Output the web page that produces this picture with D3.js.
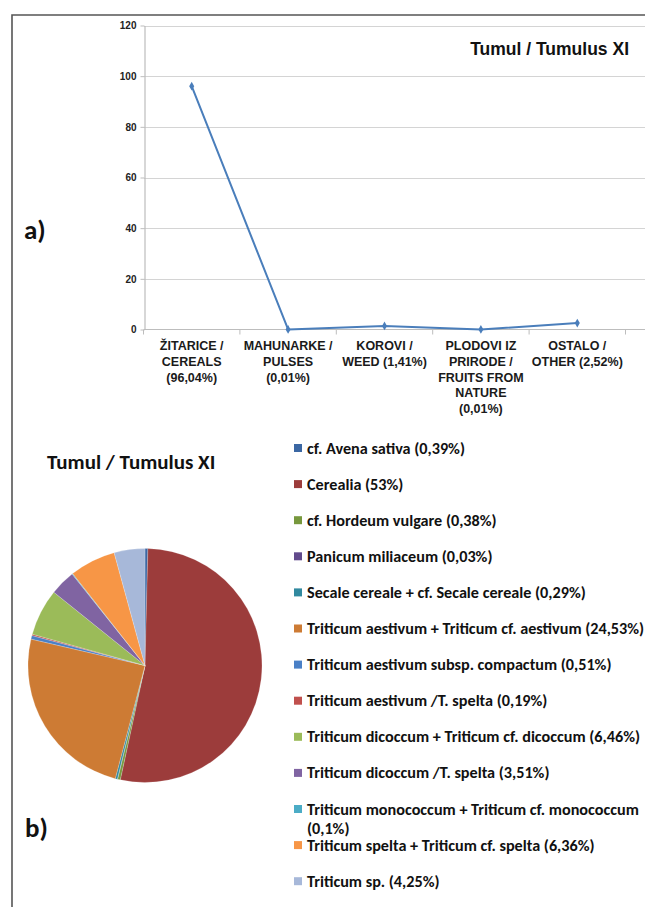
<!DOCTYPE html>
<html>
<head>
<meta charset="utf-8">
<script src="https://cdn.jsdelivr.net/npm/d3@7"></script>
<style>
  html, body { margin: 0; padding: 0; background: #fff; }
  svg { display: block; }
</style>
</head>
<body>
<svg id="chart" width="645" height="907"></svg>
<script>
// ---- data ----
const categories = [
  ["ŽITARICE /", "CEREALS", "(96,04%)"],
  ["MAHUNARKE /", "PULSES", "(0,01%)"],
  ["KOROVI /", "WEED (1,41%)"],
  ["PLODOVI IZ", "PRIRODE /", "FRUITS FROM", "NATURE", "(0,01%)"],
  ["OSTALO /", "OTHER (2,52%)"]
];
const lineValues = [96.04, 0.01, 1.41, 0.01, 2.52];
const yTicks = [0, 20, 40, 60, 80, 100, 120];
const lineTitle = "Tumul / Tumulus XI";

const pieTitle = "Tumul / Tumulus XI";
const pieLabels = [
  "cf. Avena sativa (0,39%)",
  "Cerealia (53%)",
  "cf. Hordeum vulgare (0,38%)",
  "Panicum miliaceum (0,03%)",
  "Secale cereale + cf. Secale cereale (0,29%)",
  "Triticum aestivum + Triticum cf. aestivum (24,53%)",
  "Triticum aestivum subsp. compactum (0,51%)",
  "Triticum aestivum /T. spelta (0,19%)",
  "Triticum dicoccum + Triticum cf. dicoccum (6,46%)",
  "Triticum dicoccum /T. spelta (3,51%)",
  "Triticum monococcum + Triticum cf. monococcum|(0,1%)",
  "Triticum spelta + Triticum cf. spelta (6,36%)",
  "Triticum sp. (4,25%)"
];
const pieValues = [0.39, 53, 0.38, 0.03, 0.29, 24.53, 0.51, 0.19, 6.46, 3.51, 0.1, 6.36, 4.25];
const pieColors = ["#3b67a3", "#9c3c3b", "#77983d", "#624a8c", "#31899f", "#cd7b34",
                   "#4a80c6", "#c0504d", "#9bbb59", "#8064a2", "#4bacc6", "#f79646", "#a7b8d9"];

// ---- drawing ----
const svg = d3.select("#chart");
const arial = "'Liberation Sans', Arial, sans-serif";
const calibri = "Carlito, Calibri, Lato, 'Open Sans', sans-serif";

// outer frame
svg.append("path")
  .attr("d", "M12,920 L12,15 L660,15")
  .attr("fill", "none").attr("stroke", "#555").attr("stroke-width", 1.6);

// panel labels
svg.append("text").attr("x", 24).attr("y", 239).text("a)")
  .attr("font-family", calibri).attr("font-weight", 700).attr("font-size", 27).attr("fill", "#111");
svg.append("text").attr("x", 25).attr("y", 837).text("b)")
  .attr("font-family", calibri).attr("font-weight", 700).attr("font-size", 27).attr("fill", "#111");

// ---- line chart ----
const x = d3.scaleBand().domain(d3.range(categories.length)).range([143.5, 625.5]).padding(0);
const y = d3.scaleLinear().domain([0, 120]).range([329.5, 25.5]);
const bw = x.bandwidth();

const g1 = svg.append("g");
// gridlines
g1.selectAll("line.grid").data(yTicks.filter(d => d > 0)).join("line")
  .attr("class", "grid")
  .attr("x1", 144).attr("x2", 645)
  .attr("y1", d => Math.round(y(d)) + 0.5).attr("y2", d => Math.round(y(d)) + 0.5)
  .attr("stroke", "#d4d4d4").attr("stroke-width", 1);

// y axis
const yAxis = g1.append("g").attr("transform", "translate(144.5,0)")
  .call(d3.axisLeft(y).tickValues(yTicks).tickSize(4).tickSizeOuter(0).tickFormat(d3.format("d")));
yAxis.select(".domain").attr("stroke", "#bdbdbd").attr("stroke-width", 1.2);
yAxis.selectAll(".tick line").attr("stroke", "#bdbdbd");
yAxis.selectAll(".tick text")
  .attr("font-family", arial).attr("font-weight", 700).attr("font-size", 10)
  .attr("fill", "#222").attr("x", -8);

// x axis line and boundary ticks
g1.append("line").attr("x1", 144).attr("x2", 645)
  .attr("y1", y(0)).attr("y2", y(0)).attr("stroke", "#bdbdbd").attr("stroke-width", 1.2);
g1.selectAll("line.xt").data(d3.range(categories.length + 1)).join("line")
  .attr("class", "xt")
  .attr("x1", i => x.range()[0] + i * bw).attr("x2", i => x.range()[0] + i * bw)
  .attr("y1", y(0)).attr("y2", y(0) + 5)
  .attr("stroke", "#bdbdbd").attr("stroke-width", 1);

// x labels
const xl = g1.selectAll("text.xl").data(categories).join("text")
  .attr("class", "xl")
  .attr("font-family", arial).attr("font-weight", 700).attr("font-size", 12.5)
  .attr("fill", "#1a1a1a").attr("text-anchor", "middle");
xl.each(function(lines, i) {
  const t = d3.select(this);
  lines.forEach((ln, k) => {
    t.append("tspan").attr("x", x(i) + bw / 2).attr("y", 350 + k * 15.8).text(ln);
  });
});

// line
const line = d3.line().x((d, i) => x(i) + bw / 2).y(d => y(d));
g1.append("path").datum(lineValues).attr("d", line)
  .attr("fill", "none").attr("stroke", "#4a7ebb").attr("stroke-width", 2).attr("stroke-linejoin", "round");
g1.selectAll("path.mk").data(lineValues).join("path")
  .attr("class", "mk")
  .attr("transform", (d, i) => `translate(${x(i) + bw / 2},${y(d)})`)
  .attr("d", d3.symbol(d3.symbolDiamond, 22))
  .attr("fill", "#4a7ebb");

// title
g1.append("text").attr("x", 629).attr("y", 55).attr("text-anchor", "end")
  .attr("font-family", arial).attr("font-weight", 700).attr("font-size", 17.5).attr("fill", "#111")
  .text(lineTitle);

// ---- pie chart ----
svg.append("text").attr("x", 47).attr("y", 469).text(pieTitle)
  .attr("font-family", calibri).attr("font-weight", 700).attr("font-size", 21).attr("fill", "#111");

const pie = d3.pie().sort(null).value(d => d);
const arc = d3.arc().innerRadius(0).outerRadius(117);
const gp = svg.append("g").attr("transform", "translate(145,665.5)");
gp.selectAll("path").data(pie(pieValues)).join("path")
  .attr("d", arc)
  .attr("fill", (d, i) => pieColors[i])
  .attr("stroke", "#fff").attr("stroke-width", 0.2);

// legend
const lg = svg.append("g");
const rows = lg.selectAll("g").data(pieLabels).join("g")
  .attr("transform", (d, i) => `translate(294,${448 + i * 36.1})`);
rows.append("rect").attr("x", 0).attr("y", -4).attr("width", 8).attr("height", 8)
  .attr("fill", (d, i) => pieColors[i]);
rows.append("text")
  .attr("font-family", calibri).attr("font-weight", 700).attr("font-size", 16.2).attr("fill", "#111")
  .each(function(d) {
    const t = d3.select(this);
    d.split("|").forEach((ln, k) => {
      t.append("tspan").attr("x", 13).attr("y", 5.5 + k * 19).text(ln);
    });
  });
</script>
</body>
</html>
